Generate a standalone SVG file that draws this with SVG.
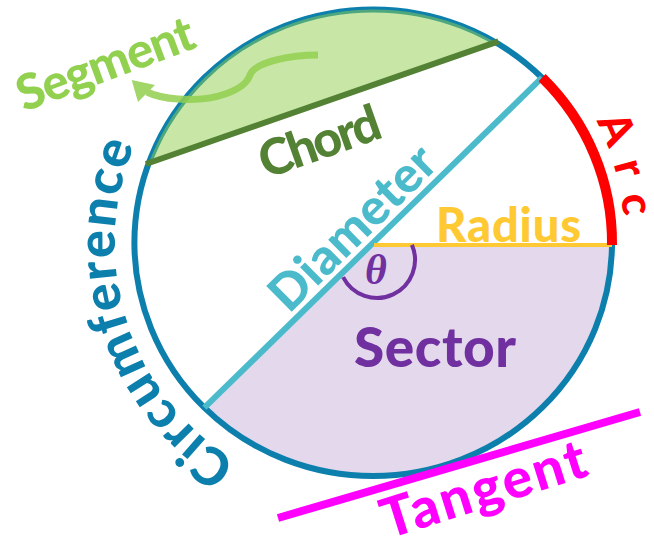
<svg xmlns="http://www.w3.org/2000/svg" width="654" height="543" viewBox="0 0 654 543">
<defs>
<style>
.lbl{font-family:Lato,"Open Sans","Liberation Sans",sans-serif;font-weight:900}
.ring{fill:none;stroke:#0C7FAC;stroke-width:6}
</style>
<path id="circPath" d="M 236.8 461.8 A 256 256 0 0 1 150.1 114" fill="none"/>
<path id="arcPath" d="M 596 121 A 250 250 0 0 1 619 287" fill="none"/>
</defs>
<rect width="654" height="543" fill="#ffffff"/>
<g id="sector">
<path d="M 374 245 L 612 245 A 238.8 233.3 0 0 1 204.4 407.7 Z" fill="#E3D8EC"/>
</g>
<g id="circle">
<ellipse class="ring" cx="373.2" cy="242.7" rx="238.8" ry="233.3"/>
</g>
<g id="segment">
<path d="M 148.8 163 A 238.8 233.3 0 0 1 495.5 42.3 Z" fill="#92D050" fill-opacity="0.5"/>
</g>
<g id="chord">
<line x1="145.9" y1="164" x2="498.4" y2="41.3" stroke="#548235" stroke-width="6"/>
</g>
<g id="diameter">
<line x1="542" y1="77.7" x2="204.4" y2="407.7" stroke="#4BBBCC" stroke-width="6"/>
</g>
<g id="radius">
<line x1="374" y1="245" x2="612" y2="245" stroke="#FFC934" stroke-width="4"/>
</g>
<g id="arc">
<path d="M 542.1 77.7 A 238.8 233.3 0 0 1 612 245" fill="none" stroke="#FF0000" stroke-width="10"/>
</g>
<g id="theta">
<path d="M 411.9 244.9 A 38 38 0 0 1 343.1 277.1" fill="none" stroke="#7030A0" stroke-width="4"/>
<text x="376" y="284" text-anchor="middle" font-family="'Liberation Serif',serif" font-style="italic" font-weight="700" font-size="42" fill="#7030A0">θ</text>
</g>
<g id="tangent">
<line x1="278" y1="518" x2="640" y2="412" stroke="#FF00FF" stroke-width="8"/>
</g>
<g id="connectors">
<g opacity="0.85">
<path d="M 318 55 C 290 55, 255 62, 250 75 C 245 90, 215 102, 178 99 C 163 98, 153 95, 147 92" fill="none" stroke="#92D050" stroke-width="7"/>
<polygon points="131.7,80 138,102 155,85" fill="#92D050"/>
</g>
</g>
<g id="labels">
<text class="lbl" transform="translate(24,112) rotate(-20.4)" font-size="49" fill="#92D050" textLength="186">Segment</text>
<text class="lbl" transform="translate(266,179) rotate(-19.5)" font-size="50" fill="#548235" textLength="126">Chord</text>
<text class="lbl" transform="translate(364.5,240) rotate(-44.6)" text-anchor="middle" font-size="50" fill="#4BBBCC" textLength="212">Diameter</text>
<text class="lbl" x="436" y="241.5" font-size="47" fill="#FFC934" textLength="145">Radius</text>
<text class="lbl" x="354" y="367" font-size="55" fill="#7030A0" textLength="162">Sector</text>
<text class="lbl" transform="translate(388,539) rotate(-17.5)" font-size="55" fill="#FF00FF" textLength="212">Tangent</text>
<text class="lbl" font-size="52" fill="#0C7FAC"><textPath href="#circPath" textLength="362">Circumference</textPath></text>
<text class="lbl" font-size="44" fill="#FF0000"><textPath href="#arcPath" textLength="100">A r c</textPath></text>
</g>
</svg>
